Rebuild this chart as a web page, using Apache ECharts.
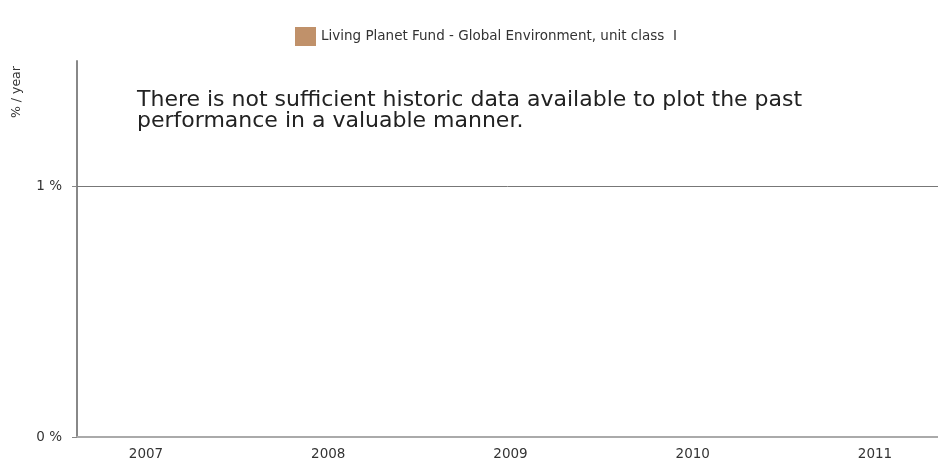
<!DOCTYPE html>
<html>
<head>
<meta charset="utf-8">
<script src="https://cdn.jsdelivr.net/npm/echarts@6/dist/echarts.min.js"></script>
<style>
html,body{margin:0;padding:0;background:#fff;}
#chart{width:938px;height:461px;}
</style>
</head>
<body>
<div id="chart"></div>
<script>
var categories = ['2007', '2008', '2009', '2010', '2011'];
var seriesName = 'Living Planet Fund - Global Environment, unit class  I';
var seriesValues = [null, null, null, null, null];
var yTicks = [0, 1];
var gridLineValues = [1];
var yMax = 1.5;
var noteText = 'There is not sufficient historic data available to plot the past\nperformance in a valuable manner.';
var axisTitle = '% / year';

var chart = echarts.init(document.getElementById('chart'));
var font = '"DejaVu Sans", Verdana, sans-serif';
chart.setOption({
  animation: false,
  textStyle: { fontFamily: font },
  color: ['#c0916a'],
  legend: {
    top: 22, left: 290,
    itemWidth: 21, itemHeight: 19, itemGap: 11,
    icon: 'rect',
    textStyle: { fontSize: 13.5, color: '#333', fontFamily: font },
    data: [seriesName]
  },
  grid: [
    { left: 77, right: 0, top: 61, bottom: 24 },
    { left: 146, right: 63, top: 61, bottom: 24 }
  ],
  xAxis: [
    { type: 'category', gridIndex: 0, data: categories,
      axisLine: { lineStyle: { color: '#aaa', width: 2 } },
      axisTick: { show: false }, axisLabel: { show: false } },
    { type: 'category', gridIndex: 1, data: categories, boundaryGap: false,
      axisLine: { show: false }, axisTick: { show: false },
      axisLabel: { color: '#333', fontSize: 13.5, margin: 15, fontFamily: font } }
  ],
  yAxis: [
    { type: 'value', gridIndex: 0, min: 0, max: yMax, interval: 1,
      axisLine: { show: true, lineStyle: { color: '#888', width: 2 } },
      axisTick: { show: true, length: 5, customValues: yTicks, lineStyle: { color: '#888' } },
      axisLabel: { customValues: yTicks, color: '#333', fontSize: 13.5, margin: 15, fontFamily: font,
        formatter: function (v) { return v + ' %'; } },
      splitLine: { show: false }
    },
    { type: 'value', gridIndex: 1, min: 0, max: yMax, show: false, splitLine: { show: false } }
  ],
  series: [
    { name: seriesName, type: 'bar', xAxisIndex: 0, yAxisIndex: 0, data: seriesValues,
      markLine: {
        silent: true, symbol: 'none', label: { show: false },
        lineStyle: { color: '#777', width: 1, type: 'solid' },
        data: gridLineValues.map(function (v) { return { yAxis: v }; })
      }
    }
  ],
  graphic: [
    { type: 'text', left: 137, top: 89,
      style: { text: noteText, font: '22px ' + font, fill: '#222', lineHeight: 21 } },
    { type: 'text', x: 10, y: 118, rotation: Math.PI / 2,
      style: { text: axisTitle, font: '12.5px ' + font, fill: '#333' } }
  ]
});
</script>
</body>
</html>
